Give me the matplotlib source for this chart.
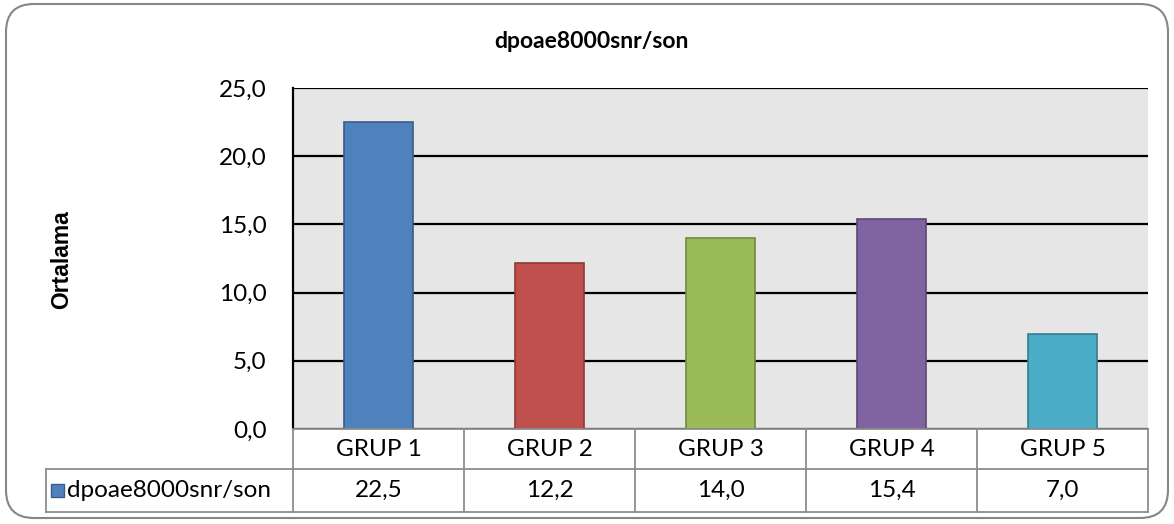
import matplotlib
matplotlib.use("Agg")
import matplotlib.pyplot as plt
from matplotlib.patches import FancyBboxPatch, Rectangle

# data
groups = ["GRUP 1", "GRUP 2", "GRUP 3", "GRUP 4", "GRUP 5"]
values = [22.5, 12.2, 14.0, 15.4, 7.0]
series_name = "dpoae8000snr/son"
title = "dpoae8000snr/son"
ylabel = "Ortalama"
yticks = [0, 5, 10, 15, 20, 25]

fills = ["#4F81BD", "#C0504D", "#9BBB59", "#8064A2", "#4BACC6"]
edges = ["#385D8A", "#8C3836", "#71893F", "#5C4776", "#357D91"]

W, H = 1174, 524
fig = plt.figure(figsize=(W / 100, H / 100), dpi=100)
FS = 17.5

# plot area in pixels
L, R, T, B = 293, 1148, 88, 429
ax = fig.add_axes([L / W, 1 - B / H, (R - L) / W, (B - T) / H])
ax.set_facecolor("#E6E6E6")
ax.bar(range(len(values)), values, width=0.4, color=fills, edgecolor=edges, linewidth=1.2, zorder=3)
ax.set_xlim(-0.5, len(values) - 0.5)
ax.set_ylim(0, 25)
ax.set_yticks(yticks)
ax.set_yticklabels([f"{v:.1f}".replace(".", ",") for v in yticks], fontsize=FS, family="Lato")
ax.tick_params(axis="y", length=0, pad=19)
ax.set_xticks([])
ax.grid(axis="y", color="black", linewidth=1.6, zorder=1)
for s in ["top", "right", "bottom"]:
    ax.spines[s].set_visible(False)
ax.spines["left"].set_color("black")
ax.spines["left"].set_linewidth(1.6)

# overlay in pixel coordinates for frame, titles and data table
ov = fig.add_axes([0, 0, 1, 1], zorder=-1)
ov.set_xlim(0, W)
ov.set_ylim(H, 0)
ov.axis("off")
ov.add_patch(FancyBboxPatch((6, 4), W - 12, H - 10, boxstyle="round,pad=0,rounding_size=28",
                            facecolor="white", edgecolor="#868686", linewidth=1.5))

top = fig.add_axes([0, 0, 1, 1], zorder=5)
top.set_xlim(0, W)
top.set_ylim(H, 0)
top.axis("off")
top.patch.set_alpha(0)

top.text(591, 42, title, ha="center", va="center", fontsize=16.5, fontweight="bold", family="Lato")
top.text(62, 260, ylabel, ha="center", va="center", rotation=90, fontsize=16.5,
         fontweight="bold", family="Liberation Sans")

# data table
gc = "#8C8C8C"
n = len(groups)
cw = (R - L) / n
r1, r2 = B, 469
r3 = 512
left_cell = 46
top.plot([L, R], [r1, r1], color=gc, lw=1.3)
top.plot([left_cell, R], [r2, r2], color=gc, lw=1.3)
top.plot([left_cell, R], [r3, r3], color=gc, lw=1.3)
top.plot([left_cell, left_cell], [r2, r3], color=gc, lw=1.3)
for i in range(n + 1):
    x = L + i * cw
    top.plot([x, x], [r1, r3], color=gc, lw=1.3)
for i, (g, v) in enumerate(zip(groups, values)):
    cx = L + (i + 0.5) * cw
    top.text(cx, (r1 + r2) / 2, g, ha="center", va="center", fontsize=FS, family="Lato")
    top.text(cx, (r2 + r3) / 2, f"{v:.1f}".replace(".", ","), ha="center", va="center",
             fontsize=FS, family="Lato")
top.add_patch(Rectangle((51, 484), 13, 13, facecolor=fills[0], edgecolor=edges[0], lw=1))
top.text(67, (r2 + r3) / 2, series_name, ha="left", va="center", fontsize=FS, family="Lato")

fig.savefig("out.png", dpi=100)
